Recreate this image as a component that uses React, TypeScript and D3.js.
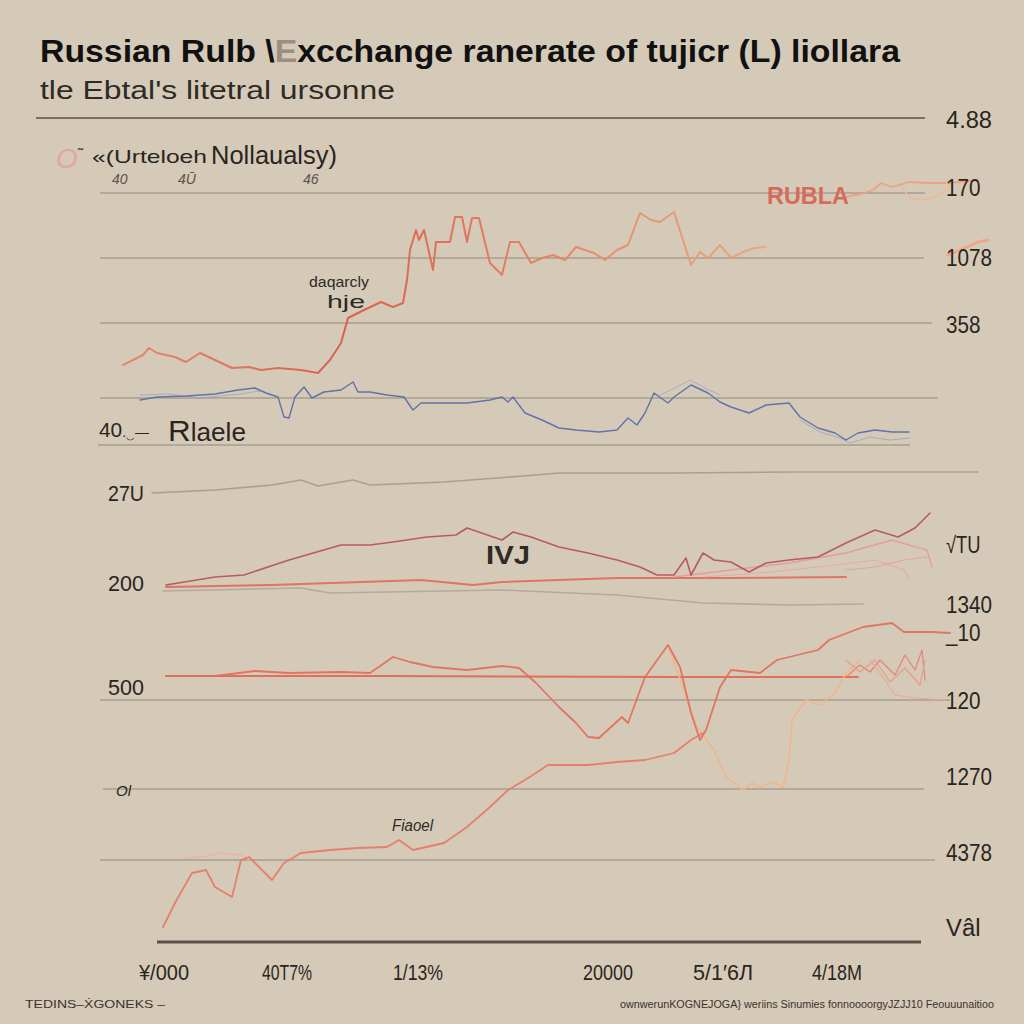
import React from 'react';
import * as d3 from 'd3';

type P = [number, number];

// x: "day" index, y: "rate" index
const topRate: P[] = [[23,575],[43,585],[49,592],[57,587],[75,583],[86,578],[100,587],[115,580],[132,572],[149,573],[161,570],[178,572],[201,570],[218,567],[230,580],[241,597],[248,622],[264,630],[281,638],[293,633],[303,637],[307,660],[310,690],[316,710],[319,700],[324,710],[333,670],[336,698],[350,698],[355,723],[362,723],[367,698],[372,722],[379,722],[390,677],[402,665],[410,698],[419,698],[431,677],[442,682],[453,685],[465,680],[476,693],[494,687],[505,680],[517,690],[528,695],[540,727],[551,720],[560,718],[574,728],[591,675],[600,688],[608,682],[620,695],[631,682],[643,688],[654,692],[666,693]];
const rublaTail: P[] = [[746,743],[764,747],[773,750],[781,757],[792,753],[809,758],[827,757],[844,757],[861,758],[878,760]];
const rublaLoop: P[] = [[800,755],[810,742],[825,740],[840,745],[850,755]];
const rublaBlob: P[] = [[848,685],[865,692],[878,698],[888,700]];
const blueRate: P[] = [[40,540],[57,543],[86,544],[115,546],[138,550],[155,552],[166,547],[178,543],[184,523],[189,522],[195,543],[204,553],[212,542],[224,548],[241,550],[253,558],[258,548],[270,548],[287,545],[304,543],[313,530],[321,537],[344,537],[367,537],[390,540],[402,543],[408,538],[413,543],[425,527],[442,520],[459,512],[476,510],[499,508],[517,510],[528,522],[537,515],[545,527],[554,547],[568,537],[574,543],[591,555],[608,547],[620,538],[631,533],[649,527],[666,535],[689,537],[700,523],[718,512],[735,507],[746,500],[758,507],[775,510],[792,508],[809,508]];
const blueEchoLeft: P[] = [[40,545],[70,546],[100,542],[140,546],[160,549]];
const blueEchoMid: P[] = [[560,545],[575,552],[590,560],[605,552],[620,545]];
const blueEchoRight: P[] = [[700,520],[720,508],[740,502],[750,497],[770,503],[790,500],[810,502]];
const grayTop: P[] = [[52,447],[115,450],[172,455],[201,460],[218,454],[253,460],[270,455],[344,458],[436,465],[459,467],[574,467],[689,468],[804,468],[878,468]];
const humpRate: P[] = [[66,355],[115,363],[144,365],[189,380],[241,395],[270,395],[293,398],[327,403],[356,405],[367,412],[402,400],[413,408],[431,403],[459,393],[488,387],[517,380],[540,373],[557,365],[574,365],[586,382],[591,365],[603,387],[614,380],[631,378],[649,368],[666,377],[689,380],[718,383],[746,397],[775,410],[798,403],[815,412],[830,427]];
const fanA: P[] = [[574,363],[631,370],[689,377],[746,387],[792,400],[827,390],[832,373]];
const fanB: P[] = [[603,363],[660,367],[718,373],[775,380],[804,370],[809,362]];
const fanC: P[] = [[746,370],[775,373],[804,380],[827,383]];
const flat200: P[] = [[66,353],[172,355],[321,360],[373,355],[402,358],[517,362],[631,362],[746,363]];
const grayLow: P[] = [[63,349],[201,352],[230,347],[402,350],[517,345],[603,337],[689,335],[763,336]];
const flat500: P[] = [[66,264],[287,264],[574,263],[758,263]];
const wiggle500: P[] = [[66,264],[115,264],[155,269],[189,267],[241,268],[270,267],[293,283],[310,278],[333,273],[367,270],[402,274],[419,272],[436,257],[459,233],[476,217],[488,203],[499,202],[511,213],[522,223],[528,217],[545,263],[568,295],[580,273],[591,227],[600,200],[606,210],[620,253],[631,270],[660,267],[677,280],[718,290],[729,300],[763,313],[792,317],[804,308],[832,308],[850,307]];
const paleDip: P[] = [[568,295],[597,213],[614,190],[626,163],[643,150],[652,157],[660,153],[672,158],[683,153],[689,180],[692,220],[706,240],[720,235],[735,247],[746,267],[760,280]];
const climbRate: P[] = [[63,13],[75,37],[92,67],[106,70],[115,53],[132,43],[141,80],[149,83],[172,60],[184,77],[201,87],[230,90],[258,92],[287,93],[299,100],[313,90],[344,97],[367,113],[390,133],[408,150],[425,160],[448,175],[488,175],[517,178],[545,180],[574,187],[591,200],[603,207]];
const climbEcho: P[] = [[83,82],[103,83],[121,87],[141,85],[149,80]];
const zigA: P[] = [[746,263],[760,275],[770,268],[780,280],[795,265],[805,285],[815,270],[822,290],[825,260]];
const zigB: P[] = [[746,280],[760,268],[775,280],[790,258],[805,272],[820,255],[825,280]];
const zigC: P[] = [[770,280],[785,260],[795,245],[815,242],[845,240]];

// gridlines: [value, xStart, xEnd]
const gridLines: [number, number, number][] = [[747,0,825],[682,0,824],[617,0,832],[542,0,838],[495,-2,810],[240,0,850],[151,3,824],[80,0,835]];
const topRuleValue = 822;
const axisValue = -2;

const rightTickValues = [820,752,682,615,395,335,307,239,163,87,12];
const rightTickLabels = ['4.88','170','1078','358','√TU','1340','_10','120','1270','4378','Vâl'];
const leftTickValues = [447,357,253];
const leftTickLabels = ['27U','200','500'];
const xTickValues = [64,187,318,508,623,737];
const xTickLabels = ['¥/000','40T7%','1/13%','20000','5/1\u20326Л','4/18M'];

const footerLeft = 'TEDINS–ẊGONEKS –';
const footerRight = 'ownwerunKOGNEJOGA} weriins Sinumies fonnoooorgyJZJJ10 Feouuunaitioo';

const SANS = "'Liberation Sans',Arial,sans-serif";

export default function App() {
  const x = d3.scaleLinear().domain([0, 840]).range([100, 940]);
  const y = d3.scaleLinear().domain([0, 822]).range([940, 118]);
  const line = d3.line<P>().x(d => x(d[0])).y(d => y(d[1]));

  const series: { data: P[]; stroke: string; w: number; op?: number }[] = [
    { data: grayTop, stroke: '#a59d92', w: 1.6 },
    { data: grayLow, stroke: '#b4a69b', w: 1.6 },
    { data: flat200, stroke: '#de6f60', w: 2 },
    { data: fanA, stroke: '#e59a98', w: 1.3 },
    { data: fanB, stroke: '#e8a8a3', w: 1.2 },
    { data: fanC, stroke: '#e7a19e', w: 1.1 },
    { data: humpRate, stroke: '#b4555a', w: 1.6 },
    { data: flat500, stroke: '#e06a55', w: 2 },
    { data: paleDip, stroke: '#f0b48c', w: 1.6 },
    { data: wiggle500, stroke: '#e2705e', w: 1.8 },
    { data: zigA, stroke: '#e68070', w: 1.2 },
    { data: zigB, stroke: '#ea9a88', w: 1.2 },
    { data: zigC, stroke: '#eaa898', w: 1.2 },
    { data: climbEcho, stroke: '#eeb0a6', w: 1.4 },
    { data: climbRate, stroke: '#e87a6a', w: 1.8 },
    { data: blueEchoLeft, stroke: '#9aa2c8', w: 1, op: 0.8 },
    { data: blueEchoMid, stroke: '#9aa2c8', w: 1, op: 0.7 },
    { data: blueEchoRight, stroke: '#9aa2c8', w: 1, op: 0.8 },
    { data: blueRate, stroke: '#5b6eaa', w: 1.4 },
    { data: rublaLoop, stroke: '#efb69a', w: 1.4 },
    { data: rublaBlob, stroke: '#f0a48a', w: 3 },
    { data: rublaTail, stroke: '#eda080', w: 1.8 },
    { data: topRate, stroke: 'url(#gradTop)', w: 2 },
  ];

  return (
    <svg width={1024} height={1024} style={{ position: 'absolute', left: 0, top: 0 }} xmlns="http://www.w3.org/2000/svg">
      <defs>
        <linearGradient id="gradTop" gradientUnits="userSpaceOnUse" x1={x(20)} x2={x(670)} y1={0} y2={0}>
          <stop offset="0" stopColor="#e4876a" />
          <stop offset="0.35" stopColor="#da5a48" />
          <stop offset="0.6" stopColor="#e27c5f" />
          <stop offset="1" stopColor="#eca67f" />
        </linearGradient>
      </defs>
      <rect width={1024} height={1024} fill="#d5cab7" />

      {/* title */}
      <text x={40} y={62} fontFamily={SANS} fontWeight="bold" fontSize={32} fill="#111" textLength={860} lengthAdjust="spacingAndGlyphs">
        Russian Rulb \<tspan fill="#9a8f80">E</tspan>xcchange ranerate of tujicr (L) liollara
      </text>
      <text x={40} y={99} fontFamily={SANS} fontSize={25} fill="#2e2a26" textLength={355} lengthAdjust="spacingAndGlyphs">
        tle Ebtal's litetral ursonne
      </text>

      {/* rules */}
      <line x1={36} x2={x(825)} y1={y(topRuleValue)} y2={y(topRuleValue)} stroke="#5a524a" strokeWidth={1.6} />
      {gridLines.map(([v, a, b], i) => (
        <line key={i} x1={x(a)} x2={x(b)} y1={y(v)} y2={y(v)} stroke="#a89c8e" strokeWidth={1.3} />
      ))}
      <line x1={x(57)} x2={x(821)} y1={y(axisValue)} y2={y(axisValue)} stroke="#5c5249" strokeWidth={3} />

      {/* legend-ish header */}
      <text x={56} y={168} fontFamily={SANS} fontSize={28} fontStyle="italic" fill="#e6a4a0">O</text>
      <text x={78} y={160} fontFamily={SANS} fontSize={16} fill="#3a332c">˜</text>
      <text x={92} y={163} fontFamily={SANS} fontSize={19} fill="#2a2520" textLength={115} lengthAdjust="spacingAndGlyphs">«(Urteloeh</text>
      <text x={211} y={164} fontFamily={SANS} fontSize={25} fill="#2a2520" textLength={126} lengthAdjust="spacingAndGlyphs">Nollaualsy)</text>
      <text x={112} y={184} fontFamily={SANS} fontSize={14} fontStyle="italic" fill="#5a524a">40</text>
      <text x={178} y={184} fontFamily={SANS} fontSize={14} fontStyle="italic" fill="#5a524a">4Ū</text>
      <text x={303} y={184} fontFamily={SANS} fontSize={14} fontStyle="italic" fill="#5a524a">46</text>

      {/* series */}
      {series.map((s, i) => (
        <path key={i} d={line(s.data) || ''} fill="none" stroke={s.stroke} strokeWidth={s.w} strokeLinejoin="round" strokeLinecap="round" opacity={s.op ?? 0.95} />
      ))}

      {/* annotations */}
      <text x={767} y={204} fontFamily={SANS} fontWeight="bold" fontSize={24} fill="#d66a5c" textLength={82} lengthAdjust="spacingAndGlyphs">RUBLA</text>
      <text x={309} y={287} fontFamily={SANS} fontSize={15} fill="#2e2a26" textLength={60} lengthAdjust="spacingAndGlyphs">daqarcly</text>
      <text x={327} y={308} fontFamily={SANS} fontSize={19} fill="#2e2a26" textLength={38} lengthAdjust="spacingAndGlyphs">hje</text>
      <text x={486} y={564} fontFamily={SANS} fontWeight="bold" fontSize={25} fill="#2e2a26" textLength={44} lengthAdjust="spacingAndGlyphs">IVJ</text>
      <text x={392} y={831} fontFamily={SANS} fontStyle="italic" fontSize={16} fill="#2e2a26" textLength={41} lengthAdjust="spacingAndGlyphs">Fiaoel</text>

      {/* left labels */}
      <text x={99} y={437} fontFamily={SANS} fontSize={21} fill="#2a2520" textLength={50} lengthAdjust="spacingAndGlyphs">40<tspan fontSize={14}>.‿—</tspan></text>
      <text x={168} y={441} fontFamily={SANS} fontSize={30} fill="#2a2520" textLength={78} lengthAdjust="spacingAndGlyphs">R<tspan fontSize={25}>laele</tspan></text>
      {leftTickValues.map((v, i) => (
        <text key={i} x={108} y={y(v) + 8} fontFamily={SANS} fontSize={22} fill="#2a2520" textLength={leftTickLabels[i].length * 12} lengthAdjust="spacingAndGlyphs">{leftTickLabels[i]}</text>
      ))}
      <text x={116} y={796} fontFamily={SANS} fontStyle="italic" fontSize={15} fill="#2a2520">Ol</text>

      {/* right labels */}
      {rightTickValues.map((v, i) => (
        <text key={i} x={946} y={y(v) + 8} fontFamily={SANS} fontSize={23} fill="#2a2520" textLength={rightTickLabels[i].length * 11.5} lengthAdjust="spacingAndGlyphs">{rightTickLabels[i]}</text>
      ))}

      {/* x labels */}
      {xTickValues.map((v, i) => (
        <text key={i} x={x(v) - xTickLabels[i].length * 5} y={980} fontFamily={SANS} fontSize={22} fill="#2a2520" textLength={xTickLabels[i].length * 10} lengthAdjust="spacingAndGlyphs">{xTickLabels[i]}</text>
      ))}

      {/* footer */}
      <text x={25} y={1008} fontFamily={SANS} fontSize={11} fill="#3a332c" textLength={140} lengthAdjust="spacingAndGlyphs">{footerLeft}</text>
      <text x={620} y={1008} fontFamily={SANS} fontSize={10} fill="#3a332c" textLength={374} lengthAdjust="spacingAndGlyphs">{footerRight}</text>
    </svg>
  );
}
